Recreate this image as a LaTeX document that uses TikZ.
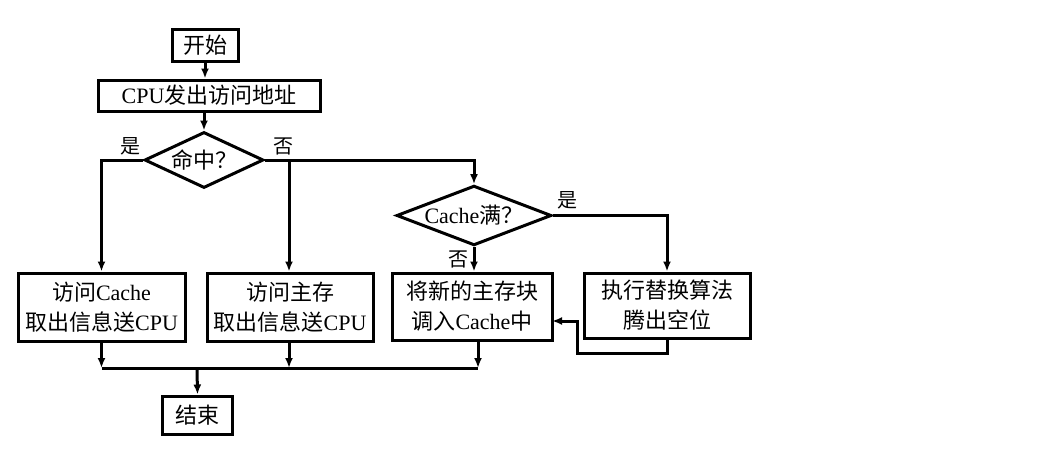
\documentclass[tikz,border=0pt]{standalone}
\usepackage{fontspec}
\setmainfont{Liberation Serif}
\newfontfamily\cjk{Noto Sans CJK SC}
\usetikzlibrary{shapes.geometric,arrows.meta,calc}
\begin{document}
\begin{tikzpicture}[x=1pt,y=-1pt,
  line width=3pt,
  every node/.style={font=\fontsize{22}{30}\selectfont},
  box/.style={draw,rectangle,inner sep=0pt,align=center},
  dia/.style={draw,diamond,inner sep=0pt,aspect=2.5},
  lbl/.style={font=\fontsize{20}{22}\selectfont\cjk,inner sep=0pt},
  arr/.style={-{Latex[length=10pt,width=8pt]}}]
\useasboundingbox (0,0) rectangle (1050,463);
% nodes
\node[box,minimum width=66pt,minimum height=32pt] (start) at (205,45) {\cjk 开始};
\node[box,minimum width=222pt,minimum height=31pt] (cpu) at (209,95.5) {CPU{\cjk 发出访问地址}};
\node[dia,minimum width=119pt,minimum height=56pt] (hit) at (204,160) {\cjk 命中？};
\node[dia,minimum width=155pt,minimum height=55pt] (full) at (474,215.5) {Cache{\cjk 满？}};
\node[box,minimum width=167pt,minimum height=68pt] (b1) at (101.5,307) {{\cjk 访问}Cache\\{\cjk 取出信息送}CPU};
\node[box,minimum width=166pt,minimum height=68pt] (b2) at (290,307) {{\cjk 访问主存}\\{\cjk 取出信息送}CPU};
\node[box,minimum width=160pt,minimum height=67pt] (b3) at (472,306.5) {{\cjk 将新的主存块}\\{\cjk 调入}Cache{\cjk 中}};
\node[box,minimum width=166pt,minimum height=65pt] (b4) at (667,305.5) {{\cjk 执行替换算法}\\{\cjk 腾出空位}};
\node[box,minimum width=70pt,minimum height=38pt] (end) at (197.5,415) {\cjk 结束};
% labels
\node[lbl] (y1) at (130,146) {是};
\node[lbl] (n1) at (283,146) {否};
\node[lbl] (y2) at (567,200) {是};
\node[lbl] (n2) at (458,259) {否};
% coordinates
\coordinate (j2) at (289,160);
\coordinate (r1) at (577,353);
\coordinate (b3in) at (552,321);
\coordinate (b3out) at (478,340);
\coordinate (m) at (197,368);
% connectors
\draw[arr] (start.south) -- (start.south |- cpu.north);
\draw[arr] (hit.north |- cpu.south) -- (hit.north);
\draw[arr] (hit.west) -- (b1.north |- hit.west) -- (b1.north);
\draw[arr] (hit.east) -- (j2) -- (j2 |- b2.north);
\draw[arr] (j2) -- (full.north |- j2) -- (full.north);
\draw[arr] (full.east) -- (b4.north |- full.east) -- (b4.north);
\draw[arr] (full.south) -- (full.south |- b3.north);
\draw[arr] (b4.south) |- (r1) |- (b3in);
\draw[arr] (b1.south) -- (b1.south |- m);
\draw[arr] (j2 |- b2.south) -- (j2 |- m);
\draw[arr] (b3out) -- (b3out |- m);
\draw (b1.south |- m) -- (b3out |- m);
\draw[arr] (m) -- (end.north);
\end{tikzpicture}
\end{document}
